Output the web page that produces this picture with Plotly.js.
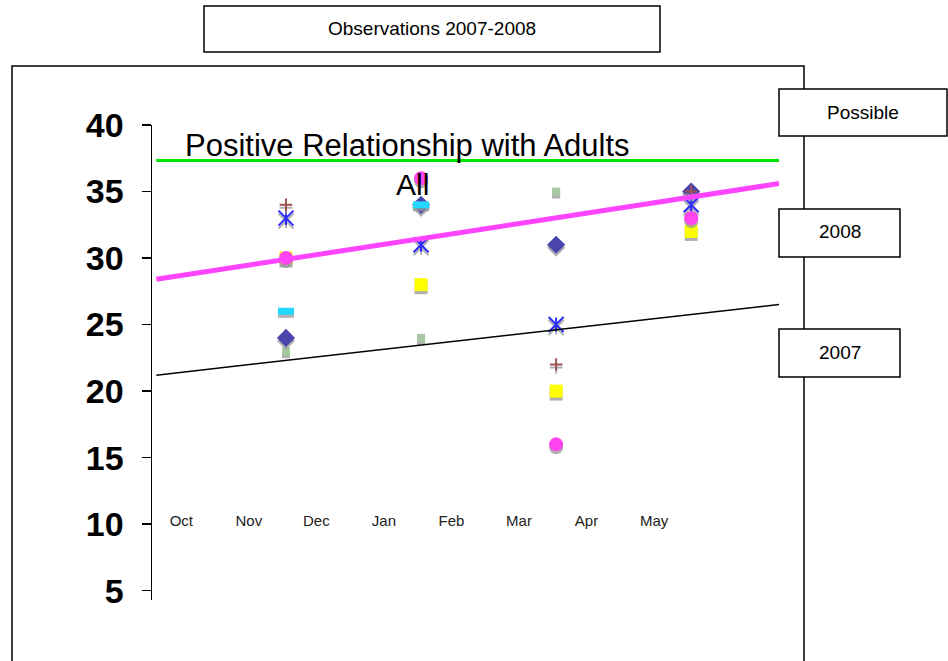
<!DOCTYPE html>
<html>
<head>
<meta charset="utf-8">
<script src="https://cdn.plot.ly/plotly-3.0.1.min.js"></script>
<style>
  html, body { margin: 0; padding: 0; background: #fff; }
  #chart { width: 948px; height: 661px; }
  .scatterlayer .trace .points path { filter: drop-shadow(0px 3px 0px rgba(150,150,150,0.75)); }
</style>
</head>
<body>
<div id="chart"></div>
<script>
// ---- data ----
const months = ["Oct", "Nov", "Dec", "Jan", "Feb", "Mar", "Apr", "May"];
const monthPos = [0, 1, 2, 3, 4, 5, 6, 7];          // month index, Oct = 0
const obsX = [1.55, 3.55, 5.55, 7.55];                 // observation dates (month index)
const diamondSeries = [24, 34, 31, 35];
const asteriskSeries = [33, 31, 25, 34];
const plusSeries = [34, null, 22, 35];
const circleSeries = [30, 36, 16, 33];
const squareSeries = [30, 28, 20, 32];
const dashSeries = [26, 34, null, null];
const smallSquareSeries = [23, 24, 35, null];
const lineX = [-0.37, 8.85];
const possibleLine = [37.33, 37.33];
const trend2008 = [28.4, 35.6];
const trend2007 = [21.2, 26.5];

// ---- layout helpers (pixel -> paper) ----
const W = 948, H = 661;
const M = { l: 152, r: 169, t: 125, b: 61 };
const PW = W - M.l - M.r, PH = H - M.t - M.b;
const px = x => (x - M.l) / PW;
const py = y => (H - M.b - y) / PH;
const FONT = 'Liberation Sans, Arial, sans-serif';

function mk(y, symbol, color, size, lineWidth) {
  return {
    type: 'scatter', mode: 'markers', x: obsX, y: y,
    marker: { symbol: symbol, color: color, size: size, line: { color: color, width: lineWidth || 0 } },
    hoverinfo: 'skip', showlegend: false
  };
}

const traces = [
  mk(smallSquareSeries, 'square', '#a6c9a2', 8),
  mk(diamondSeries, 'diamond', '#4a45ad', 14),
  mk(squareSeries, 'square', '#ffff00', 13),
  mk(asteriskSeries, 'x-thin-open', '#2a2aff', 15, 2),
  mk(asteriskSeries, 'line-ns-open', '#2a2aff', 10, 2),
  mk(circleSeries, 'circle', '#ff44f0', 14),
  mk(dashSeries, 'line-ew-open', '#22d8ff', 11.5, 7),
  mk(plusSeries, 'cross-thin-open', '#a05252', 9, 2),
  { type: 'scatter', mode: 'lines', x: lineX, y: possibleLine, line: { color: '#00e600', width: 3 }, hoverinfo: 'skip', showlegend: false },
  { type: 'scatter', mode: 'lines', x: lineX, y: trend2008, line: { color: '#ff44ff', width: 5 }, hoverinfo: 'skip', showlegend: false },
  { type: 'scatter', mode: 'lines', x: lineX, y: trend2007, line: { color: '#000000', width: 1.5 }, hoverinfo: 'skip', showlegend: false }
];

const box = (x0, y0, x1, y1) => ({
  type: 'rect', xref: 'paper', yref: 'paper',
  x0: px(x0), x1: px(x1), y0: py(y1), y1: py(y0),
  line: { color: '#000', width: 1.5 }, fillcolor: '#fff', layer: 'above'
});
const label = (text, x, y, size, anchor) => ({
  xref: 'paper', yref: 'paper', x: px(x), y: py(y), text: text, showarrow: false,
  xanchor: anchor || 'center', yanchor: 'middle',
  font: { family: FONT, size: size, color: '#000' }
});

const layout = {
  width: W, height: H, margin: M,
  paper_bgcolor: '#fff', plot_bgcolor: 'rgba(0,0,0,0)',
  showlegend: false,
  xaxis: {
    range: [-0.434, 8.85], anchor: 'free', position: 0.189,
    tickvals: monthPos, ticktext: months, ticks: '', showline: false,
    showgrid: false, zeroline: false, fixedrange: true,
    tickfont: { family: FONT, size: 15, color: '#222' }
  },
  yaxis: {
    range: [4.3, 40], tickvals: [5, 10, 15, 20, 25, 30, 35, 40],
    showline: true, linecolor: '#000', linewidth: 1.5,
    ticks: 'outside', ticklen: 9, tickwidth: 1.5, tickcolor: '#000',
    ticklabelstandoff: 11,
    showgrid: false, zeroline: false, fixedrange: true,
    tickfont: { family: FONT, size: 34, color: '#000', weight: 'bold' }
  },
  shapes: [
    { type: 'rect', xref: 'paper', yref: 'paper', x0: px(12), x1: px(804), y0: py(720), y1: py(66),
      line: { color: '#000', width: 1.5 }, fillcolor: 'rgba(0,0,0,0)', layer: 'below' },
    box(204, 6, 660, 52),
    box(779, 89, 947, 136),
    box(779, 209, 900, 257),
    box(779, 329, 900, 377)
  ],
  annotations: [
    label('Positive Relationship with Adults', 183, 145, 31, 'left'),
    label('All', 412, 184, 30),
    label('Observations 2007-2008', 432, 28, 19),
    label('Possible', 863, 112, 19),
    label('2008', 840, 231, 19),
    label('2007', 840, 352, 19)
  ]
};

Plotly.newPlot('chart', traces, layout, { displayModeBar: false, staticPlot: true });
</script>
</body>
</html>
